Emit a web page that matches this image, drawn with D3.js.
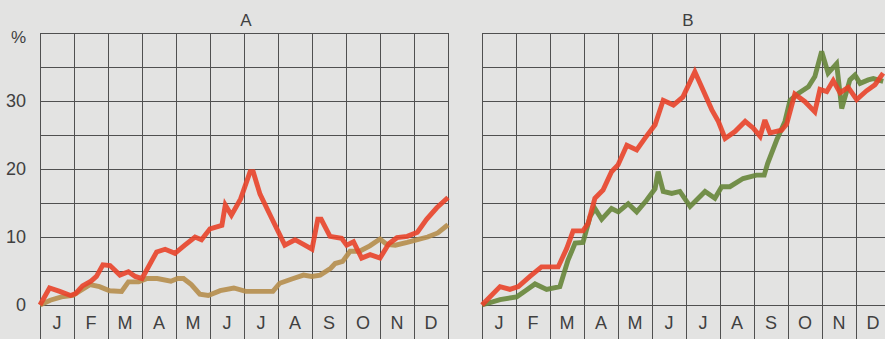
<!DOCTYPE html>
<html>
<head>
<meta charset="utf-8">
<script src="https://cdn.jsdelivr.net/npm/d3@7"></script>
<style>
  html, body { margin: 0; padding: 0; background: #e3e3e2; }
  svg { display: block; }
  text { font-family: "Liberation Sans", Arial, Helvetica, sans-serif; fill: #404040; }
  .series { fill: none; stroke-width: 4.9; stroke-linejoin: miter; stroke-miterlimit: 3; stroke-opacity: 0.9; }
</style>
</head>
<body>
<svg id="chart" width="885" height="339"></svg>
<script>
// Month initials along the bottom row of each panel
const months = ["J", "F", "M", "A", "M", "J", "J", "A", "S", "O", "N", "D"];
const yTickValues = [0, 10, 20, 30];
const panelTitles = ["A", "B"];

// Series values: [month position (0 = start of Jan, 12 = end of Dec), percent]
const seriesA_red = [
  [0, 0], [0.28, 2.5], [0.58, 2.0], [0.9, 1.4], [1.05, 1.7], [1.25, 2.8], [1.5, 3.5],
  [1.66, 4.2], [1.85, 5.9], [2.06, 5.8], [2.35, 4.4], [2.6, 4.9], [2.8, 4.2], [3.0, 3.9],
  [3.43, 7.8], [3.68, 8.2], [3.97, 7.6], [4.26, 8.8], [4.56, 10.0], [4.75, 9.6], [5.0, 11.2],
  [5.35, 11.7], [5.45, 14.7], [5.63, 13.2], [5.9, 15.6], [6.18, 19.6], [6.27, 19.6],
  [6.47, 16.3], [6.8, 12.9], [7.2, 8.8], [7.5, 9.6], [7.75, 8.9], [8.0, 8.2], [8.17, 12.6],
  [8.27, 12.6], [8.53, 10.1], [8.87, 9.8], [9.02, 8.8], [9.22, 9.3], [9.46, 6.9], [9.71, 7.4],
  [10.0, 6.9], [10.26, 9.0], [10.5, 9.9], [10.8, 10.1], [11.1, 10.7], [11.37, 12.6],
  [11.67, 14.3], [12, 15.8]
];
const seriesA_brown = [
  [0, 0], [0.3, 0.7], [0.63, 1.2], [0.97, 1.4], [1.22, 2.2], [1.47, 3.0], [1.75, 2.7],
  [2.05, 2.1], [2.4, 2.0], [2.6, 3.4], [2.9, 3.4], [3.15, 3.9], [3.45, 3.9], [3.85, 3.5],
  [4.05, 3.9], [4.22, 3.9], [4.45, 3.0], [4.7, 1.6], [4.95, 1.4], [5.3, 2.1], [5.7, 2.5],
  [6.05, 2.0], [6.4, 2.0], [6.85, 2.0], [7.05, 3.2], [7.45, 3.9], [7.75, 4.4], [7.99, 4.2],
  [8.24, 4.4], [8.55, 5.4], [8.68, 6.1], [8.9, 6.4], [9.12, 7.9], [9.4, 7.9], [9.7, 8.7],
  [10.0, 9.7], [10.2, 8.9], [10.45, 8.8], [10.8, 9.2], [11.1, 9.6], [11.4, 10.0],
  [11.7, 10.6], [12, 11.8]
];
const seriesB_red = [
  [0, 0], [0.53, 2.7], [0.82, 2.3], [1.07, 2.7], [1.41, 4.2], [1.75, 5.6], [2.24, 5.6],
  [2.49, 8.3], [2.68, 10.9], [2.97, 10.9], [3.12, 12.0], [3.32, 15.7], [3.56, 16.9],
  [3.81, 19.6], [4.0, 20.6], [4.26, 23.5], [4.55, 22.8], [4.79, 24.5], [5.09, 26.5],
  [5.33, 30.1], [5.63, 29.4], [5.91, 30.6], [6.26, 34.3], [6.5, 31.6], [6.76, 28.7],
  [6.95, 27.0], [7.15, 24.5], [7.44, 25.5], [7.74, 27.0], [7.98, 26.0], [8.18, 24.8],
  [8.32, 27.2], [8.47, 25.3], [8.81, 25.7], [8.96, 26.6], [9.2, 31.0], [9.5, 29.9],
  [9.79, 28.4], [9.94, 31.7], [10.14, 31.4], [10.33, 33.0], [10.53, 31.2], [10.77, 32.0],
  [11.02, 30.2], [11.31, 31.5], [11.56, 32.4], [11.8, 34.1]
];
const seriesB_green = [
  [0, 0], [0.53, 0.8], [1.02, 1.2], [1.31, 2.2], [1.56, 3.1], [1.9, 2.3], [2.29, 2.7],
  [2.53, 6.6], [2.74, 9.1], [2.97, 9.2], [3.18, 13.0], [3.32, 14.2], [3.52, 12.6],
  [3.81, 14.2], [4.01, 13.7], [4.3, 14.9], [4.55, 13.7], [4.84, 15.4], [5.09, 17.1],
  [5.18, 19.6], [5.33, 16.7], [5.58, 16.4], [5.82, 16.7], [6.12, 14.5], [6.56, 16.7],
  [6.85, 15.7], [7.05, 17.4], [7.29, 17.4], [7.68, 18.6], [8.07, 19.1], [8.3, 19.1],
  [8.4, 20.8], [8.67, 24.3], [8.91, 27.0], [9.06, 30.1], [9.3, 31.1], [9.6, 32.1],
  [9.79, 33.6], [9.99, 37.3], [10.18, 34.1], [10.43, 35.5], [10.58, 28.9], [10.82, 33.1],
  [10.97, 33.8], [11.12, 32.6], [11.36, 33.1], [11.51, 33.3], [11.8, 32.9]
];

const colors = { red: "#e8432a", brown: "#b58d4c", green: "#66853a" };

const svg = d3.select("#chart");
const W = 885, H = 339;

svg.append("rect").attr("width", W).attr("height", H).attr("fill", "#e3e3e2");

// Shared vertical scale: -5 is the label row below zero
const y = d3.scaleLinear().domain([-5, 40]).range([339, 33]);

const panels = [
  { title: panelTitles[0], x0: 40, x1: 448, series: [[seriesA_brown, colors.brown], [seriesA_red, colors.red]], showY: true },
  { title: panelTitles[1], x0: 482, x1: 890, series: [[seriesB_green, colors.green], [seriesB_red, colors.red]], showY: false }
];

panels.forEach(p => {
  const x = d3.scaleLinear().domain([0, 12]).range([p.x0, p.x1]);
  const g = svg.append("g");

  // Horizontal grid every 5 %
  const hGrid = d3.axisLeft(y)
    .tickValues(d3.range(0, 41, 5))
    .tickSize(-(p.x1 - p.x0))
    .tickFormat("");
  g.append("g")
    .attr("transform", `translate(${p.x0},0)`)
    .call(hGrid)
    .call(s => s.select(".domain").remove())
    .call(s => s.selectAll("line").attr("stroke", "#505050").attr("stroke-width", 1));

  // Vertical grid at month boundaries, running through the label row
  const vGrid = d3.axisTop(x)
    .tickValues(d3.range(0, 13))
    .tickSize(-(y(-5) - y(40)))
    .tickFormat("");
  g.append("g")
    .attr("transform", `translate(0,${y(40)})`)
    .call(vGrid)
    .call(s => s.select(".domain").remove())
    .call(s => s.selectAll("line").attr("stroke", "#505050").attr("stroke-width", 1));

  // Month initials centred in each column
  g.selectAll("text.month")
    .data(months)
    .join("text")
    .attr("class", "month")
    .attr("x", (d, i) => x(i + 0.5))
    .attr("y", 329)
    .attr("text-anchor", "middle")
    .attr("font-size", 18)
    .text(d => d);

  // Panel title
  g.append("text")
    .attr("x", (p.x0 + p.x1) / 2 + 2)
    .attr("y", 26)
    .attr("text-anchor", "middle")
    .attr("font-size", 17)
    .text(p.title);

  // Data lines
  const line = d3.line().x(d => x(d[0])).y(d => y(d[1]));
  p.series.forEach(([data, color]) => {
    g.append("path")
      .datum(data)
      .attr("class", "series")
      .attr("stroke", color)
      .attr("d", line);
  });

  if (p.showY) {
    const yAxis = d3.axisLeft(y).tickValues(yTickValues).tickSize(0).tickPadding(0);
    g.append("g")
      .attr("transform", "translate(26,0)")
      .call(yAxis)
      .call(s => s.select(".domain").remove())
      .call(s => s.selectAll("text")
        .attr("font-size", 18)
        .attr("fill", "#404040")
        .attr("font-family", "'Liberation Sans', Arial, sans-serif"));
    g.append("text")
      .attr("x", 26)
      .attr("y", 43)
      .attr("text-anchor", "end")
      .attr("font-size", 17)
      .text("%");
  }
});
</script>
</body>
</html>
